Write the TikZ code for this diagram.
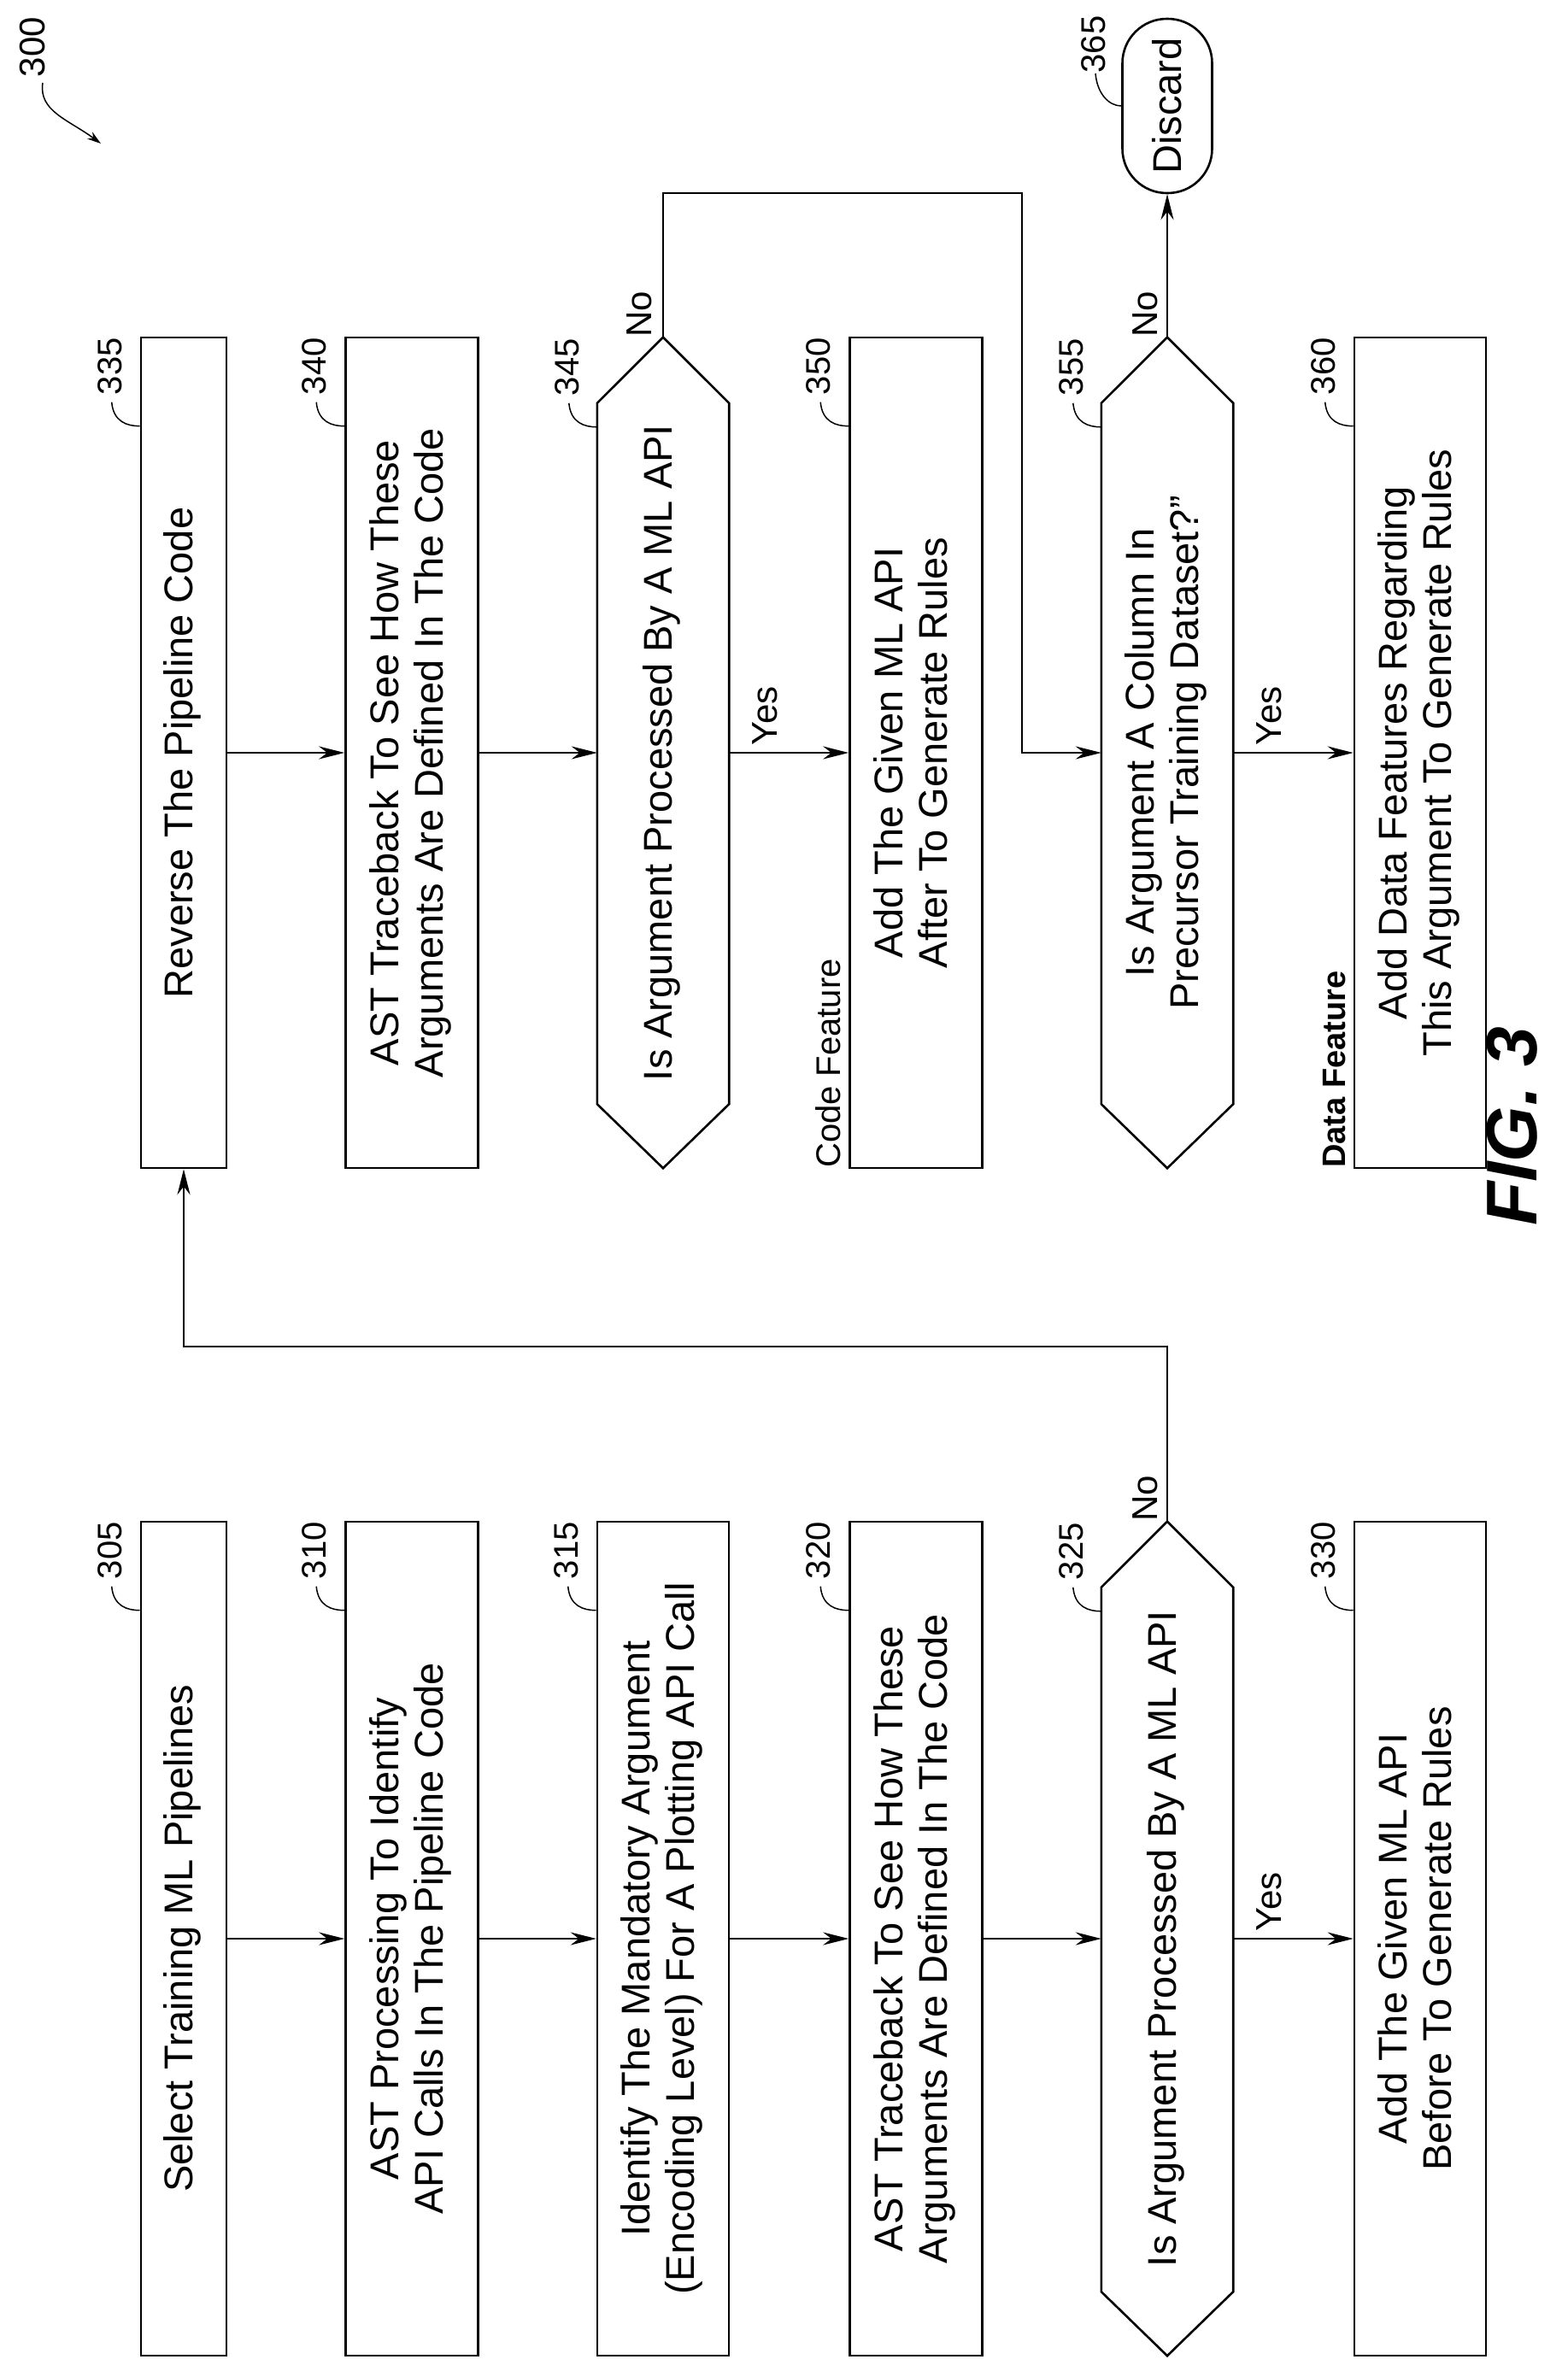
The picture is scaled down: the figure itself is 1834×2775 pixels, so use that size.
\documentclass[tikz,border=0pt]{standalone}
\usepackage{fontspec}
\setmainfont{Liberation Sans}
\usetikzlibrary{calc,arrows.meta}
\begin{document}
\begin{tikzpicture}[x=1pt,y=-1pt,
  box/.style={draw,line width=2.6pt,inner sep=0pt,font=\fontsize{47}{52}\selectfont},
  hexn/.style={inner sep=0pt,font=\fontsize{47}{52}\selectfont},
  hexd/.style={line width=2.6pt,line join=miter},
  arr/.style={line width=1.8pt,-{Stealth[length=30pt,width=15pt]}},
  lab/.style={font=\fontsize{40}{42}\selectfont,inner sep=0pt},
  lead/.style={line width=1.5pt},
  yn/.style={font=\fontsize{42}{44}\selectfont,inner sep=0pt}]
\useasboundingbox (0,0) rectangle (1834,2775);
\newcommand\rt[1]{\rotatebox{90}{\begin{tabular}{@{}c@{}}#1\end{tabular}}}
\newcommand\reflab[2]{%
  \node[lab] (l#2) at ($(#1.north west)+(-35,35)$) {\rotatebox{90}{#2}};
  \draw[lead] ($(#1.north west)+(-33,77)$) .. controls ($(#1.north west)+(-31,100)$) and ($(#1.north west)+(-15,105)$) .. ($(#1.north west)+(0,105)$);}
\newcommand\hexdraw[1]{%
  \draw[hexd] ($(#1.north west)+(0,77)$) -- (#1.north) -- ($(#1.north east)+(0,77)$) -- ($(#1.south east)+(0,-75)$) -- (#1.south) -- ($(#1.south west)+(0,-75)$) -- cycle;}
% right group
\node[box,minimum width=100,minimum height=972] (b335) at (215,881) {\rt{Reverse The Pipeline Code}};
\node[box,minimum width=155,minimum height=972] (b340) at (482,881) {\rt{AST Traceback To See How These\\Arguments Are Defined In The Code}};
\node[hexn,minimum width=154,minimum height=972] (h345) at (776,881) {\rt{Is Argument Processed By A ML API}};
\node[box,minimum width=155,minimum height=972] (b350) at (1072,881) {\rt{Add The Given ML API\\After To Generate Rules}};
\node[hexn,minimum width=154,minimum height=972] (h355) at (1366,881) {\rt{Is Argument A Column In\\Precursor Training Dataset?”}};
\node[box,minimum width=154,minimum height=972] (b360) at (1662,881) {\rt{Add Data Features Regarding\\This Argument To Generate Rules}};
\node[box,rounded corners=52,minimum width=105,minimum height=204] (d365) at (1366,124) {\rotatebox{90}{Discard}};
% left group
\node[box,minimum width=100,minimum height=976] (b305) at (215,2269) {\rt{Select Training ML Pipelines}};
\node[box,minimum width=155,minimum height=976] (b310) at (482,2269) {\rt{AST Processing To Identify\\API Calls In The Pipeline Code}};
\node[box,minimum width=154,minimum height=976] (b315) at (776,2269) {\rt{Identify The Mandatory Argument\\(Encoding Level) For A Plotting API Call}};
\node[box,minimum width=155,minimum height=976] (b320) at (1072,2269) {\rt{AST Traceback To See How These\\Arguments Are Defined In The Code}};
\node[hexn,minimum width=154,minimum height=976] (h325) at (1366,2269) {\rt{Is Argument Processed By A ML API}};
\node[box,minimum width=154,minimum height=976] (b330) at (1662,2269) {\rt{Add The Given ML API\\Before To Generate Rules}};
\hexdraw{h345}\hexdraw{h355}\hexdraw{h325}
% reference labels
\reflab{b335}{335}\reflab{b340}{340}\reflab{h345}{345}\reflab{b350}{350}\reflab{h355}{355}\reflab{b360}{360}
\reflab{b305}{305}\reflab{b310}{310}\reflab{b315}{315}\reflab{b320}{320}\reflab{h325}{325}\reflab{b330}{330}
\node[lab] (l365) at (1280,52) {\rotatebox{90}{365}};
\draw[lead] (1282,86) .. controls (1284,110) and (1298,124) .. (d365.west);
\node[lab,font=\fontsize{42}{44}\selectfont] (l300) at (38,55) {\rotatebox{90}{300}};
\coordinate (a300) at (118,168);
\draw[lead,-{Stealth[length=16pt,width=10pt]}] (50,97) .. controls (45,130) and (80,140) .. (a300);
% connectors
\draw[arr] (b335.east) -- (b340.west);
\draw[arr] (b340.east) -- (h345.west);
\draw[arr] (h345.east) -- node[yn,above=8pt,pos=0.3]{\rotatebox{90}{Yes}} (b350.west);
\draw[arr] (h355.east) -- node[yn,above=8pt,pos=0.3]{\rotatebox{90}{Yes}} (b360.west);
\draw[arr] (h355.north) -- (d365.south);
\coordinate (c1) at (1196,226);
\draw[arr] (h345.north) |- (c1) |- (h355.west);
\draw[arr] (b305.east) -- (b310.west);
\draw[arr] (b310.east) -- (b315.west);
\draw[arr] (b315.east) -- (b320.west);
\draw[arr] (b320.east) -- (h325.west);
\draw[arr] (h325.east) -- node[yn,above=8pt,pos=0.3]{\rotatebox{90}{Yes}} (b330.west);
\coordinate (c2) at (215,1576);
\draw[arr] (h325.north) |- (c2) -- (b335.south);
\node[yn] (n345) at (748,368) {\rotatebox{90}{No}};
\node[yn] (n355) at (1340,368) {\rotatebox{90}{No}};
\node[yn] (n325) at (1340,1754) {\rotatebox{90}{No}};
% feature labels
\node[inner sep=0pt,anchor=west,rotate=90,font=\fontsize{40}{42}\selectfont] (cft) at (969,1367) {Code Feature};
\node[inner sep=0pt,anchor=west,rotate=90,font=\fontsize{38}{40}\selectfont\bfseries] (dft) at (1562,1367) {Data Feature};
\node[inner sep=0pt,rotate=90,font=\fontsize{84}{88}\selectfont\bfseries\itshape] (fig) at (1770,1318) {FIG. 3};
\end{tikzpicture}
\end{document}
